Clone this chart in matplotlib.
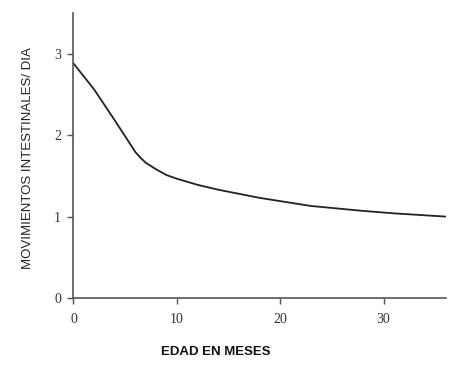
import matplotlib
matplotlib.use("Agg")
import matplotlib.pyplot as plt

age_months = [0, 2, 4, 6, 6.5, 7, 8, 9, 10, 12, 14, 18, 23, 28, 31, 36]
movements = [2.88, 2.56, 2.18, 1.79, 1.72, 1.66, 1.58, 1.51, 1.465, 1.39, 1.33, 1.23, 1.13, 1.07, 1.04, 1.00]
x_ticks = [0, 10, 20, 30]
y_ticks = [0, 1, 2, 3]

fig = plt.figure(figsize=(4.68, 3.68), dpi=100)
ax = fig.add_axes([0.157, 0.190, 0.795, 0.775])
ax.plot(age_months, movements, color="#222222", lw=1.3)
ax.set_xlim(0, 36)
ax.set_ylim(0, 3.5)
ax.set_xticks(x_ticks)
ax.set_yticks(y_ticks)
for s in ["top", "right"]:
    ax.spines[s].set_visible(False)
for s in ["left", "bottom"]:
    ax.spines[s].set_color("#555555")
    ax.spines[s].set_linewidth(1.2)
ax.tick_params(direction="out", length=4, width=1, color="#555555",
               labelcolor="#333333", labelsize=10)
ax.tick_params(axis="x", pad=7)
ax.tick_params(axis="y", pad=5)
for lab in ax.get_xticklabels() + ax.get_yticklabels():
    lab.set_family("Liberation Serif")

fig.text(0.06, 0.57, "MOVIMIENTOS INTESTINALES/ DIA", rotation=90,
         ha="center", va="center", family="Liberation Sans", fontsize=9.5,
         color="#222222")
fig.text(0.46, 0.043, "EDAD EN MESES", ha="center", va="center",
         family="Liberation Sans", fontsize=9.5, fontweight="bold", color="#111111")

fig.savefig("out.png", dpi=100)
